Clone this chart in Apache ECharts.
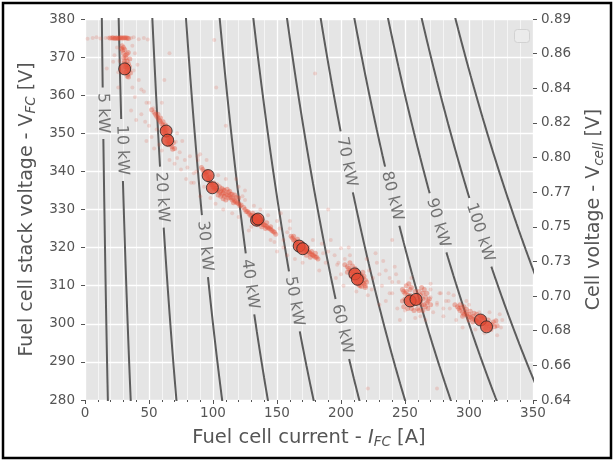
<!DOCTYPE html>
<html><head><meta charset="utf-8">
<script src="https://cdn.jsdelivr.net/npm/echarts@6/dist/echarts.min.js"></script>
<style>html,body{margin:0;padding:0;background:#fff}#c{width:614px;height:461px}</style>
</head><body><div id="c"></div>
<script>
// ---------- data ----------
const xTickLabels = ['0','50','100','150','200','250','300','350'];
const rightTickLabels = ['0.64','0.66','0.68','0.70','0.73','0.75','0.77','0.80','0.82','0.84','0.86','0.89'];
const powerLevels = [5,10,20,30,40,50,60,70,80,90,100,110];            // kW iso-power lines
const labelLevels = [5,10,20,30,40,50,60,70,80,90,100];
const labelVoltages = [355.3,345.6,333.2,320.4,310.4,305.9,298.6,342.5,333.5,326.5,324.0];
const meanCurrent = [31.0,63.4,64.6,96.2,99.5,134.0,135.2,167.3,170.1,210.8,212.8,254.0,258.6,309.0,313.7];
const meanVoltage = [366.9,350.6,348.2,338.9,335.7,327.2,327.5,320.4,319.7,313.1,311.7,306.0,306.4,301.0,299.2];
// dense operating-point streaks
const denseA = [[19.5,375],[21,375],[22,375.1],[23,374.9],[24,375],[25,375],[26,374.9],[27,375],[28,375.1],[29,375],[30,375],[31,375.1],[32,375],[33,375],[34,374.9],
[29,373],[30,372.5],[31,372],[30,371],[31.5,370.5],[32,369.8],[31,369],[33,369],[32.5,368],[34,368.2],[33,367],[34.5,366.5],[33.5,365.5],[34,364.8],[33,365],[31.5,367.5],[30.5,368.5],[32,366],[29.5,371.8],[34.8,367.5],[35,369.5],[32.8,370.8],[30.2,369.8],[33.8,371.2],[28.5,372.2],[35.5,365.8]];
const denseB = [[54,355.5],[55,355],[56,354.5],[57,354],[58,353.5],[59,353],[60,352.5],[61,352],[62,351.5],[62,350.5],[63,350],[64,349.5],[65,349],[65.5,348],[66,347.5],[67,347],[68,346.5],[63.5,351],[61,353],[66.5,349],[64,348],[67.5,348.5],[69,347.5],[59,354],[57,355],[70,346],[60.5,351.2],[62.8,352.2],[65,347],[68.5,345.8],[52,356.2]];
const denseC = [[91,341],[92,340.5],[93,340],[94,339.5],[95,339],[96,338],[97,337.5],[98,337],[99,336.5],[100,336],[101,335.5],[102,335.5],[103,335],[104,335],[105,334.5],[106,334.8],[107,334],[108,334.3],[109,333.5],[110,334],[111,333.8],[112,333],[113,333.5],[114,333],[115,332.5],[116,332.8],[117,332.2],[118,332],[119,331.8],[120,331.5],[121,331],[122,331.2],[95.5,340],[97.5,338.5],[100.5,337],[103,336.5],[106,333.5],[110,332.5],[114,334],[118,333.2],[108,335.2],[112,334.5],[116,331.8],
[105,336],[107,335.5],[109,335],[111,335.3],[113,334.8],[115,334],[117,333.8],[120,333],[104,333.8],[108,332.8],
[124,330.5],[125,330],[126,329.5],[127,329.5],[128,329],[129,328.5],[130,328.5],[131,328],[132,328],[133,327.5],[134,327],[135,327],[136,326.8],[137,326.5],[138,326.5],[139,326],[140,326],[141,325.8],[142,325.5],[143,325.2],[144,325],[145,324.8],[146,324.5],[147,324.2],[148,324],[149,323.5],[131,329],[133,328.5],[136,327.5],[139,327],[142,326.5],[145,325.5],[135,326],[138,325.5],[141,325]];
const denseD = [[161,323],[162,322.5],[163,322],[164,321.8],[165,321.5],[166,321],[167,320.8],[168,320.5],[169,320.2],[170,320],[171,319.8],[172,319.5],[173,319.2],[174,319],[175,318.8],[176,318.5],[177,318.2],[178,318],[179,317.8],[180,317.5],[181,317.5],[182,317],[165,320.5],[168,319.5],[171,319],[174,320],[177,319],[173,318],[176,317.5],[163,323],[180,318.5],[166,322.2],[170,321],
[203,315.5],[205,315],[206,314.5],[207,314],[208,314],[209,313.5],[210,313],[211,313],[212,312.5],[213,312],[214,311.8],[215,311.5],[216,311],[217,310.8],[218,310.5],[219,310],[210,312],[212,311],[214,312.8],[216,312.5],[208,312.5],[211,314.5],[215,310],[213,310.5],[217,312],[205,313.5],[219,311.5],[209,315.2],[207,316],
[213,313.5],[215,313],[218,312.5],[219,309.5],[220,311],[216,309.8],[211,311.5],[214,310.2],[212,314],[217,313.5]];
const denseE = [[248,309],[249,308.5],[250,308],[251,308.5],[252,307.5],[253,307],[254,307.5],[255,306.5],[256,307],[257,306],[258,306.5],[259,305.5],[260,306],[261,305.5],[262,306],[263,305],[264,306.5],[265,305],[266,304.5],[267,305.5],[268,304],[252,305.5],[256,305],[260,304],[262,307.5],[264,308],[266,307],[250,306.5],[258,308.5],[254,309],[251,310],[263,309.5],[269,306.5],
[248,306],[249,304.5],[252,304],[255,304],[257,303.5],[259,307.5],[261,308.5],[265,309],[267,308],[253,310.5],[255,309.5],[268,306],[270,305],[261,303.5],[264,303.5],
[289,305],[291,304.5],[292,304],[293,303.5],[294,304.2],[295,303],[296,302.5],[297,303.2],[298,302.5],[299,302],[300,302.5],[301,301.8],[302,301.5],[303,302],[304,301.2],[305,301],[306,300.8],[308,300.5],[310,300.2],[312,300],[314,300],[316,299.5],[318,299.8],[320,299.2],[322,299.5],[295,302],[300,301],[304,302.8],[310,301.5],[315,301],[319,300.5],
[293,305],[296,304.5],[298,303.8],[301,303.3],[303,300.5],[306,302.5],[309,302],[312,301.5],[313,298.8],[317,298.5],[321,300.8]];
// sparse scattered samples
const sparseA = [[2,374.8],[6,375],[9,375.2],[12,374.9],[16,375],[18,375.1],[36,375],[38,375.2],[42,374.7],[46,375],[49,374.6],
[17,367],[22,368.8],[23,370.5],[25,372.5],[26,366],[37,373],[39,371],[27,369],[38,366.5],[41,368],[42,364],[44,361.5],[46,361],[37,362],[39,359.5],[48,358],[50,358],[53.5,356.6],[60,358],[44,355],[66,371],[62,364],[26,362],[36,356],[40,353.5],[47,353]];
const sparseB = [[50,352],[52,349],[58,347],[72,350],[74,345],[70,342],[60,345.5],[76,348],[78,343],[80,341],[54,346],[48,348],[82,344],[75,340.5],[85,339.5],[72,343.5],[88,343],[71,347.8],[56,351],[79,338],[83,337],[66,343],[90,344.5],[95,343]];
const sparseC = [[85,337],[88,344],[90,333.5],[104,339],[110,338],[115,329],[125,335],[108,330],[120,336],[128,329.5],[98,333],[93,336],[102,331.5],[118,338],[123,333.5],[87,340],
[120,328],[125,332.5],[132,331],[150,327],[155,322],[145,322],[128,324.5],[152,325],[158,324],[160,327],[137,330],[143,328.5],[130,325.5],[148,321.5],[153,329]];
const sparseD = [[155,320],[158,318],[185,321],[188,316],[170,316],[160,325],[150,319],[183,314],[178,322],[190,319],[195,318],[197,315.5],[200,319.8],[203,317],[186,318.5],[164,317],[192,322],
[198,316],[200,313],[196,312],[222,314],[225,312],[220,317],[228,316],[230,313],[224,309],[232,310],[235,314],[240,311],[238,308],[207,318],[202,310],[221,307.5],[227,318.5],[212,308.5],[233,316.5],[243,313],[206,320]];
const sparseE = [[240,308],[235,306],[244,304],[270,307],[272,303],[275,305],[246,301],[262,302],[280,304],[245,311],[238,312],[255,312],[230,305],[284,306],[270,310.5],[250,303.5],[277,308],[258,301.5],[242,315],[266,301],
[282,306],[278,308],[285,304],[275,305.5],[290,301],[298,306],[325,299],[326,301],[322,297],[312,297.5],[284,308],[270,309],[280,302],[300,305],[308,303],[295,299],[316,303],[288,307.5],[305,298.5],[324,302.5],
[221,283],[275,283],[179.7,365.7],[102.5,362],[101,374.5],[190,330],[240,322],[110,352]];

// ---------- chart ----------
const FONT = 'DejaVu Sans';
const GREY = '#555555';
const chart = echarts.init(document.getElementById('c'), null, {renderer: 'canvas'});

const base = {
  animation: false,
  backgroundColor: '#ffffff',
  grid: {left: 85, right: 78, top: 19, bottom: 61, show: true, backgroundColor: '#E5E5E5', borderWidth: 0},
  xAxis: {
    type: 'value', min: 0, max: 350, interval: 50,
    axisLine: {show: false},
    axisTick: {show: true, inside: false, length: 4, lineStyle: {color: GREY}},
    minorTick: {show: true, splitNumber: 5, length: 2, lineStyle: {color: GREY}},
    splitLine: {show: true, lineStyle: {color: '#ffffff', width: 1.3}},
    minorSplitLine: {show: true, lineStyle: {color: '#ffffff', width: 0.6}},
    axisLabel: {color: GREY, fontFamily: FONT, fontSize: 13.5, margin: 6,
      formatter: v => xTickLabels[Math.round(v / 50)]},
    name: 'Fuel cell current - {it|I}{sub|FC} [A]',
    nameLocation: 'middle', nameGap: 26,
    nameTextStyle: {color: GREY, fontFamily: FONT, fontSize: 19.5,
      rich: {it: {fontStyle: 'italic', color: GREY, fontFamily: FONT, fontSize: 19.5},
             sub: {fontStyle: 'italic', color: GREY, fontFamily: FONT, fontSize: 13.5, padding: [9, 0, 0, 0]}}}
  },
  yAxis: [{
    type: 'value', min: 280, max: 380, interval: 10, position: 'left',
    axisLine: {show: false},
    axisTick: {show: true, inside: false, length: 4, lineStyle: {color: GREY}},
    splitLine: {show: true, lineStyle: {color: '#ffffff', width: 1.3}},
    axisLabel: {color: GREY, fontFamily: FONT, fontSize: 13.5, margin: 10},
    name: 'Fuel cell stack voltage - V{sub|FC} [V]',
    nameLocation: 'middle', nameGap: 40, nameRotate: 90,
    nameTextStyle: {color: GREY, fontFamily: FONT, fontSize: 19,
      rich: {sub: {fontStyle: 'italic', color: GREY, fontFamily: FONT, fontSize: 13.5, padding: [9, 0, 0, 0]}}}
  }, {
    type: 'value', min: 0, max: 11, interval: 1, position: 'right',
    axisLine: {show: false},
    axisTick: {show: true, inside: false, length: 4, lineStyle: {color: GREY}},
    splitLine: {show: false},
    axisLabel: {color: GREY, fontFamily: FONT, fontSize: 13.5, margin: 8,
      formatter: v => rightTickLabels[Math.round(v)]},
    name: 'Cell voltage - V{sub|cell} [V]',
    nameLocation: 'middle', nameGap: 50, nameRotate: 90,
    nameTextStyle: {color: GREY, fontFamily: FONT, fontSize: 19,
      rich: {sub: {fontStyle: 'italic', color: GREY, fontFamily: FONT, fontSize: 13.5, padding: [9, 0, 0, 0]}}}
  }],
  graphic: [
    {type: 'rect', left: 514, top: 29, shape: {width: 15, height: 13, r: 3},
     style: {fill: 'rgba(235,235,235,0.9)', stroke: '#d2d2d2', lineWidth: 1}, z: 10},
    {type: 'rect', shape: {x: 3, y: 3, width: 608, height: 455},
     style: {fill: 'none', stroke: '#000000', lineWidth: 2.5}, z: 10, silent: true}
  ],
  series: [{type: 'scatter', data: [], xAxisIndex: 0, yAxisIndex: 0}]
};
chart.setOption(base);

const ctx = document.createElement('canvas').getContext('2d');
ctx.font = '16px "' + FONT + '"';
const toPx = p => chart.convertToPixel({xAxisIndex: 0, yAxisIndex: 0}, p);

const series = [];
const labelData = [];
powerLevels.forEach(P => {
  const li = labelLevels.indexOf(P);
  let center = null, r = 0;
  if (li >= 0) {
    const Vl = labelVoltages[li];
    center = toPx([P * 1000 / Vl, Vl]);
    const txt = P + ' kW';
    r = ctx.measureText(txt).width / 2 + 5;
    const a = toPx([P * 1000 / (Vl + 1), Vl + 1]);
    const b = toPx([P * 1000 / (Vl - 1), Vl - 1]);
    const ang = Math.atan2(b[1] - a[1], b[0] - a[0]) * 180 / Math.PI;
    labelData.push({value: [P * 1000 / Vl, Vl], label: {formatter: txt, rotate: -ang}});
  }
  let seg = [];
  const segs = [];
  for (let V = 381; V >= 279; V -= 0.25) {
    const I = P * 1000 / V;
    const q = toPx([I, V]);
    if (center && Math.hypot(q[0] - center[0], q[1] - center[1]) < r) {
      if (seg.length) { segs.push(seg); seg = []; }
    } else {
      seg.push([I, V]);
    }
  }
  if (seg.length) segs.push(seg);
  segs.forEach(s => series.push({
    type: 'line', data: s, showSymbol: false, symbol: 'none', clip: true, silent: true,
    lineStyle: {color: '#5c5c5c', width: 2}, z: 2
  }));
});

series.push({
  type: 'scatter', data: [].concat(sparseA, sparseB, sparseC, sparseD, sparseE),
  symbolSize: 4, itemStyle: {color: 'rgba(226,74,51,0.22)'}, silent: true, z: 3
});
series.push({
  type: 'scatter', data: [].concat(denseA, denseB, denseC, denseD, denseE),
  symbolSize: 5, itemStyle: {color: 'rgba(226,74,51,0.45)'}, silent: true, z: 3
});
series.push({
  type: 'scatter', data: labelData, symbolSize: 0, silent: true, z: 4,
  label: {show: true, position: 'inside', color: GREY, fontFamily: FONT, fontSize: 16}
});
series.push({
  type: 'scatter', data: meanCurrent.map((c, i) => [c, meanVoltage[i]]),
  symbolSize: 12, itemStyle: {color: '#E24A33', borderColor: '#222222', borderWidth: 1}, silent: true, z: 5
});

chart.setOption({series: series}, {replaceMerge: ['series']});
</script>
</body></html>
